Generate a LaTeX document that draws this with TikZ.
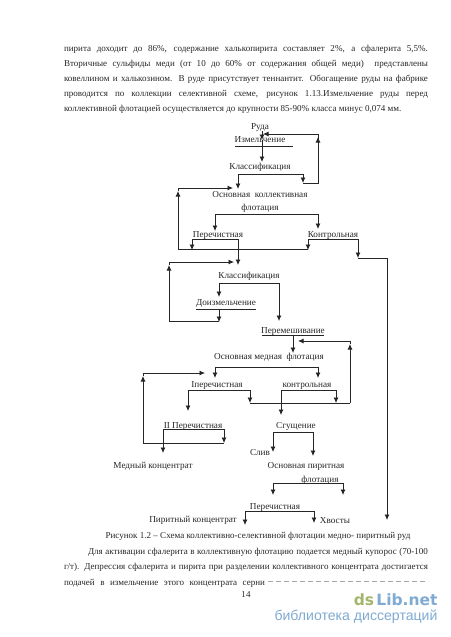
\documentclass[tikz,border=0pt]{standalone}
\usepackage{fontspec}
\setmainfont{Liberation Serif}
\newfontfamily\markfont{DejaVu Sans}
\newfontfamily\marksub{Liberation Sans}
\usepackage{xcolor}
\usetikzlibrary{arrows.meta,positioning}
\definecolor{inkgray}{gray}{0.15}
\definecolor{markgreen}{HTML}{A3B56B}
\definecolor{markblue}{HTML}{7FAAD2}
\newcommand{\fullline}[1]{\hbox to 364pt{#1}}
\begin{document}
\begin{tikzpicture}[
        x=1pt, y=-1pt, on grid,
        every node/.style={inner sep=0pt, text=inkgray},
        txt/.style={font=\fontsize{9.05}{11}\selectfont, text height=7pt, text depth=2pt},
        lbl/.style={font=\fontsize{9.2}{11}\selectfont, text height=6.5pt, text depth=2pt},
        ln/.style={draw=inkgray, line width=0.75pt},
        arr/.style={ln, -{Latex[length=5.5pt,width=5pt]}}
    ]
        \useasboundingbox (0,0) rectangle (450,637);
        \node[txt] (top1) at (246,49) {\fullline{пирита доходит до 86\%, содержание халькопирита составляет 2\%, а сфалерита 5,5\%.}};
        \node[txt, below=15pt of top1] (top2) {\fullline{Вторичные сульфиды меди (от 10 до 60\% от содержания общей меди) \ представлены}};
        \node[txt, below=15pt of top2] (top3) {\fullline{ковеллином и халькозином. В руде присутствует теннантит. Обогащение руды на фабрике}};
        \node[txt, below=15pt of top3] (top4) {\fullline{проводится по коллекции селективной схеме, рисунок 1.13.Измельчение руды перед}};
        \node[txt, below=15pt of top4] (top5) {\fullline{коллективной флотацией осуществляется до крупности 85-90\% класса минус 0,074 мм.\hfil}};

        \node[lbl] (ruda) at (260,127) {Руда};
        \node[lbl, below=13pt of ruda] (izm) {Измельчение};
        \node[lbl, below=27pt of izm] (klass1) {Классификация};
        \node[lbl, below=28pt of klass1] (osnk) {Основная\ \ коллективная};
        \node[lbl, below=13pt of osnk] (flot1) {флотация};
        \node[lbl, below left=27pt and 42pt of flot1] (pere1) {Перечистная};
        \node[lbl, right=115pt of pere1] (kontr1) {Контрольная};
        \node[lbl, below right=41pt and 31pt of pere1] (klass2) {Классификация};
        \node[lbl, below left=27pt and 23pt of klass2] (doizm) {Доизмельчение};
        \node[lbl, below right=28pt and 67pt of doizm] (perem) {Перемешивание};
        \node[lbl, below left=26pt and 24pt of perem] (osnm) {Основная медная\ \ флотация};
        \node[lbl, below left=28pt and 52pt of osnm] (ipere) {Iперечистная};
        \node[lbl, right=90pt of ipere] (kontr2) {контрольная};
        \node[lbl, below left=41pt and 24pt of ipere] (iipere) {II Перечистная};
        \node[lbl, below left=41pt and 11pt of kontr2] (sgu) {Сгущение};
        \node[lbl, below left=27pt and 36pt of sgu] (sliv) {Слив};
        \node[lbl, below left=40pt and 40pt of iipere] (medk) {Медный концентрат};
        \node[lbl, below right=40pt and 10pt of sgu] (osnp) {Основная пиритная};
        \node[lbl, below right=14pt and 14pt of osnp] (flot2) {флотация};
        \node[lbl, below left=27pt and 45pt of flot2] (pere3) {Перечистная};
        \node[lbl, below left=13pt and 82pt of pere3] (pirk) {Пиритный концентрат};
        \node[lbl, below right=14pt and 60pt of pere3] (hvost) {Хвосты};

        \node[txt] (capt) at (258,536) {Рисунок 1.2 -- Схема коллективно-селективной флотации медно- пиритный руд};
        \node[txt] (low1) at (258,552) {\hbox to 340pt{Для активации сфалерита в коллективную флотацию подается медный купорос (70-100}};
        \node[txt] (low2) at (246,567) {\fullline{г/т). Депрессия сфалерита и пирита при разделении коллективного концентрата достигается}};
        \node[txt] (low3) at (164.5,583) {\hbox to 201pt{подачей в измельчение этого концентрата серни}};
        \node[txt] (pagenum) at (246,595) {14};
        \node[text=markgreen, font=\markfont\bfseries\fontsize{15.5}{17}\selectfont] (markds) at (364,600) {ds};
        \node[text=markblue, font=\markfont\bfseries\fontsize{15.5}{17}\selectfont, right=43pt of markds] (marklib) {Lib.net};
        \node[text=markblue, font=\marksub\fontsize{14.1}{16}\selectfont] (marksub) at (356,617) {библиотека диссертаций};

        \foreach \nm/\x/\y in {
            izA/235/146, izB/293/146, orM/262/140, orE/262/162,
            ftL/263/134, ftR/318/134, ftB/318/182, ftS/303/183, ftH/318/137,
            klaL/238/174, klaR/303/174, klaA/238/189,
            lfL/178/249, lfT/178/188, lfE/233/188, lfH/178/191,
            flaL/215/214, flaR/318/214, flaA/215/231, flaB/318/229,
            paL/192/239, paR/238/239, paA/192/250, paB/238/265,
            kaL/308/239, kaR/358/239, kaA/308/250, kaB/358/258,
            tlE/387/258, tlA/387/520,
            lsB/169/321, lsT/169/262, lsE/234/262, lsH/169/265,
            klbL/219/283, klbR/279/283, klbA/219/297, klbB/279/321,
            dzA/196/309, dzB/256/309, dzS/219/309, dzE/219/322,
            pmA/262/335, pmB/324/335, pmS/293/335, pmE/293/353,
            rfB/350/403, rfT/350/341, rfE/298/341, rfH/350/344,
            fmL/215/367, fmR/318/367, fmA/215/378, fmB/318/378,
            ipL/188/390, ipR/250/390, ipA/188/411, ipB/250/403,
            kpL/281/390, kpR/336/390, kpA/281/415, kpB/336/403,
            iiL/163/429, iiR/224/429, iiA/163/453, iiB/224/443,
            lcB/143/443, lcT/143/373, lcE/205/373, lcH/143/376,
            sgL/273/432, sgR/313/432, sgA/273/452, sgB/313/456,
            fpL/273/483, fpR/343/483, fpA/273/495, fpB/343/495,
            pcL/245/511, pcR/314/511, pcA/245/525, pcB/314/523,
            cutA/268/581, cutB/428/581}
            \coordinate (\nm) at (\x,\y);

        \draw[arr] (ruda.south -| orM) -- (orM);
        \draw[arr] (orM) -- (orE);
        \draw[ln] (izA) -- (izB);
        \draw[ln] (klaL) -- (klaR);
        \draw[arr] (klaL) -- (klaA);
        \draw[arr] (klaR) -- (ftS);
        \draw[ln] (ftS -| klaR) -- (ftS -| ftB) -- (ftR);
        \draw[arr] (ftB) -- (ftH);
        \draw[arr] (ftR) -- (ftL);
        \draw[ln] (flaL) -- (flaR);
        \draw[arr] (flaL) -- (flaA);
        \draw[arr] (flaR) -- (flaB);
        \draw[ln] (paL) -- (paR);
        \draw[arr] (paL) -- (paA);
        \draw[arr] (paR) -- (paB);
        \draw[ln] (kaL) -- (kaR);
        \draw[arr] (kaL) -- (kaA);
        \draw[arr] (kaR) -- (kaB);
        \draw[ln] (kaB) -- (tlE);
        \draw[arr] (tlE) -- (tlA);
        \draw[ln] (kaA |- lfL) -- (lfL);
        \draw[arr] (lfL) -- (lfH);
        \draw[ln] (lfH) -- (lfT);
        \draw[arr] (lfT) -- (lfE);
        \draw[ln] (klbL) -- (klbR);
        \draw[arr] (klbL) -- (klbA);
        \draw[arr] (klbR) -- (klbB);
        \draw[ln] (dzA) -- (dzB);
        \draw[arr] (dzS) -- (dzE);
        \draw[ln] (dzS |- lsB) -- (lsB);
        \draw[arr] (lsB) -- (lsH);
        \draw[ln] (lsH) -- (lsT);
        \draw[arr] (lsT) -- (lsE);
        \draw[ln] (pmA) -- (pmB);
        \draw[arr] (pmS) -- (pmE);
        \draw[arr] (rfB) -- (rfH);
        \draw[ln] (rfH) -- (rfT);
        \draw[arr] (rfT) -- (rfE);
        \draw[ln] (fmL) -- (fmR);
        \draw[arr] (fmL) -- (fmA);
        \draw[arr] (fmR) -- (fmB);
        \draw[ln] (ipL) -- (ipR);
        \draw[arr] (ipL) -- (ipA);
        \draw[arr] (ipR) -- (ipB);
        \draw[ln] (kpL) -- (kpR);
        \draw[arr] (kpL) -- (kpA);
        \draw[arr] (kpR) -- (kpB);
        \draw[ln] (ipB) -- (rfB);
        \draw[ln] (iiL) -- (iiR);
        \draw[arr] (iiL) -- (iiA);
        \draw[arr] (iiR) -- (iiB);
        \draw[ln] (iiB) -- (lcB);
        \draw[arr] (lcB) -- (lcH);
        \draw[ln] (lcH) -- (lcT);
        \draw[arr] (lcT) -- (lcE);
        \draw[ln] (sgL) -- (sgR);
        \draw[arr] (sgL) -- (sgA);
        \draw[arr] (sgR) -- (sgB);
        \draw[ln] (fpL) -- (fpR);
        \draw[arr] (fpL) -- (fpA);
        \draw[arr] (fpR) -- (fpB);
        \draw[ln] (pcL) -- (pcR);
        \draw[arr] (pcL) -- (pcA);
        \draw[arr] (pcR) -- (pcB);
        \draw[gray!70, line width=0.4pt, dash pattern=on 5pt off 3pt] (cutA) -- (cutB);
    \end{tikzpicture}
\end{document}
